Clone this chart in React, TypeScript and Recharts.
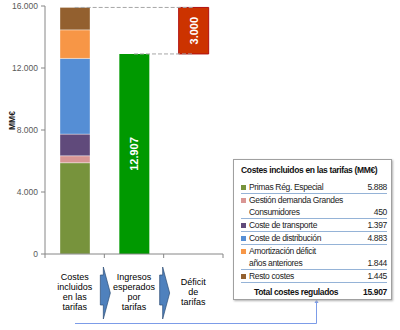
import React from "react";
import {
  BarChart,
  Bar,
  XAxis,
  YAxis,
  ReferenceLine,
  LabelList,
} from "recharts";

const categories = [
  "Costes incluidos en las tarifas",
  "Ingresos esperados por tarifas",
  "Déficit de tarifas",
];
const categoryLines = [
  ["Costes", "incluidos", "en las", "tarifas"],
  ["Ingresos", "esperados", "por", "tarifas"],
  ["Déficit", "de", "tarifas"],
];

const costNames = [
  "Primas Rég. Especial",
  "Gestión demanda Grandes Consumidores",
  "Coste de transporte",
  "Coste de distribución",
  "Amortización déficit años anteriores",
  "Resto costes",
];
const costLegendLines = [
  ["Primas Rég. Especial"],
  ["Gestión demanda Grandes", "Consumidores"],
  ["Coste de transporte"],
  ["Coste de distribución"],
  ["Amortización déficit", "años anteriores"],
  ["Resto costes"],
];
const costValues = [5888, 450, 1397, 4883, 1844, 1445];
const costColors = ["#77933C", "#D99694", "#604A7B", "#558ED5", "#F79646", "#93602F"];

const ingresos = 12907;
const deficit = 3000;
const totalCostes = 15907;
const yTicks = [0, 4000, 8000, 12000, 16000];

const data = categories.map((name, i) => {
  const row: Record<string, any> = { name };
  costValues.forEach((v, k) => {
    row["c" + k] = i === 0 ? v : 0;
  });
  row.ingresos = i === 1 ? ingresos : 0;
  row.base = i === 2 ? ingresos : 0;
  row.deficit = i === 2 ? deficit : 0;
  return row;
});

const fmt = (v: number) => String(v).replace(/\B(?=(\d{3})+(?!\d))/g, ".");

const W = 400;
const H = 330;
const MARGIN = { top: 6, right: 177, bottom: 0, left: 0 };
const Y_AXIS_W = 45;
const X_AXIS_H = 76;
const PLOT_BOTTOM = H - X_AXIS_H;
const HALF_BAND = (W - MARGIN.right - Y_AXIS_W) / categories.length / 2;
const FONT = "'Liberation Sans', Arial, sans-serif";

const CategoryTick = (props: any) => {
  const { x, index } = props;
  const lines = categoryLines[index] || [];
  const lh = 10.3;
  const startY = PLOT_BOTTOM + 38 - ((lines.length - 1) * lh) / 2 + 3;
  const bx = x + HALF_BAND;
  const y0 = PLOT_BOTTOM + 13;
  return (
    <g>
      {index === 0 && (
        <line x1={x - HALF_BAND} x2={x - HALF_BAND} y1={PLOT_BOTTOM} y2={PLOT_BOTTOM + 4} stroke="#868686" />
      )}
      <line x1={bx} x2={bx} y1={PLOT_BOTTOM} y2={PLOT_BOTTOM + 4} stroke="#868686" />
      <text textAnchor="middle" fontFamily={FONT} fontSize={9} fill="#000">
        {lines.map((l, k) => (
          <tspan key={k} x={x} y={startY + k * lh}>
            {l}
          </tspan>
        ))}
      </text>
      {index < categories.length - 1 && (
        <polygon
          points={`${bx - 4},${y0 + 8} ${bx - 1},${y0 + 8} ${bx - 1},${y0} ${bx + 6},${y0 + 26} ${bx - 1},${y0 + 52} ${bx - 1},${y0 + 38} ${bx - 4},${y0 + 38}`}
          fill="#4F81BD"
          stroke="#2C4D75"
          strokeWidth={0.7}
        />
      )}
    </g>
  );
};

const RotatedLabel = (props: any) => {
  const { x, y, width, height, value } = props;
  if (!value) return null;
  const cx = x + width / 2;
  const cy = y + height / 2;
  return (
    <text
      x={cx}
      y={cy}
      transform={`rotate(-90 ${cx} ${cy})`}
      textAnchor="middle"
      dominantBaseline="central"
      fill="#fff"
      fontWeight="bold"
      fontSize={11}
      fontFamily={FONT}
    >
      {fmt(value)}
    </text>
  );
};

const LegendBox = () => (
  <div
    style={{
      position: "absolute",
      left: 233,
      top: 159,
      width: 159,
      height: 141,
      border: "1px solid #A0A0A0",
      boxShadow: "1px 1px 2px #B0B0B0",
      background: "#fff",
      fontFamily: FONT,
      fontSize: 8.5,
      letterSpacing: -0.35,
      color: "#222",
      padding: "0 4px 0 7px",
      boxSizing: "border-box",
      whiteSpace: "nowrap",
    }}
  >
    <div style={{ fontWeight: "bold", height: 21, lineHeight: "20px", color: "#111" }}>
      Costes incluidos en las tarifas (MM€)
    </div>
    {costLegendLines.map((lines, i) => (
      <div
        key={i}
        style={{
          display: "flex",
          alignItems: "flex-end",
          justifyContent: "space-between",
          borderBottom: "1px solid #95B3D7",
          height: lines.length > 1 ? 24 : 12,
          paddingBottom: 0,
          boxSizing: "content-box",
        }}
      >
        <div style={{ lineHeight: "12px" }}>
          {lines.map((l, k) => (
            <div key={k} style={{ display: "flex", alignItems: "center" }}>
              <span
                style={{
                  display: "inline-block",
                  width: 5,
                  height: 5,
                  marginRight: 3,
                  background: k === 0 ? costColors[i] : "transparent",
                }}
              />
              {l}
            </div>
          ))}
        </div>
        <div style={{ lineHeight: "12px" }}>{fmt(costValues[i])}</div>
      </div>
    ))}
    <div
      style={{
        display: "flex",
        justifyContent: "space-between",
        fontWeight: "bold",
        lineHeight: "18px",
        paddingLeft: 13,
        color: "#111",
      }}
    >
      <span>Total costes regulados</span>
      <span>{fmt(totalCostes)}</span>
    </div>
  </div>
);

export default function App() {
  return (
    <div style={{ position: "absolute", left: 0, top: 0, width: W, height: H, background: "#fff" }}>
      <BarChart width={W} height={H} data={data} margin={MARGIN} barSize={30}>
        <XAxis
          dataKey="name"
          height={X_AXIS_H}
          tickLine={false}
          axisLine={{ stroke: "#868686" }}
          tick={<CategoryTick />}
          interval={0}
        />
        <YAxis
          width={Y_AXIS_W}
          domain={[0, 16000]}
          ticks={yTicks}
          interval={0}
          tickFormatter={fmt}
          tick={{ fill: "#595959", fontSize: 8.5, fontFamily: FONT }}
          tickSize={4}
          tickMargin={3}
          axisLine={{ stroke: "#868686" }}
          tickLine={{ stroke: "#868686" }}
          label={{
            value: "MM€",
            angle: -90,
            position: "insideLeft",
            offset: 12,
            style: { fontSize: 8.5, fontWeight: "bold", fill: "#222", fontFamily: FONT },
          }}
        />
        <ReferenceLine
          segment={[
            { x: categories[0], y: totalCostes },
            { x: categories[2], y: totalCostes },
          ]}
          stroke="#A6A6A6"
          strokeDasharray="4 2"
        />
        <ReferenceLine
          segment={[
            { x: categories[1], y: ingresos },
            { x: categories[2], y: ingresos },
          ]}
          stroke="#A6A6A6"
          strokeDasharray="4 2"
        />
        {costValues.map((_, k) => (
          <Bar
            key={k}
            dataKey={"c" + k}
            name={costNames[k]}
            stackId="s"
            fill={costColors[k]}
            stroke="rgba(255,255,255,0.35)"
            isAnimationActive={false}
          />
        ))}
        <Bar dataKey="ingresos" stackId="s" fill="#009900" isAnimationActive={false}>
          <LabelList dataKey="ingresos" content={<RotatedLabel />} />
        </Bar>
        <Bar dataKey="base" stackId="s" fill="transparent" isAnimationActive={false} />
        <Bar dataKey="deficit" stackId="s" fill="#CC3300" stroke="#B01010" isAnimationActive={false}>
          <LabelList dataKey="deficit" content={<RotatedLabel />} />
        </Bar>
      </BarChart>
      <svg width={W} height={H} style={{ position: "absolute", left: 0, top: 0, pointerEvents: "none" }}>
        <polyline points="75,323.5 316.5,323.5 316.5,302" fill="none" stroke="#7C9CE8" strokeWidth={1} />
        <polygon points="316.5,299 314.5,303 318.5,303" fill="#7C9CE8" />
      </svg>
      <LegendBox />
    </div>
  );
}
